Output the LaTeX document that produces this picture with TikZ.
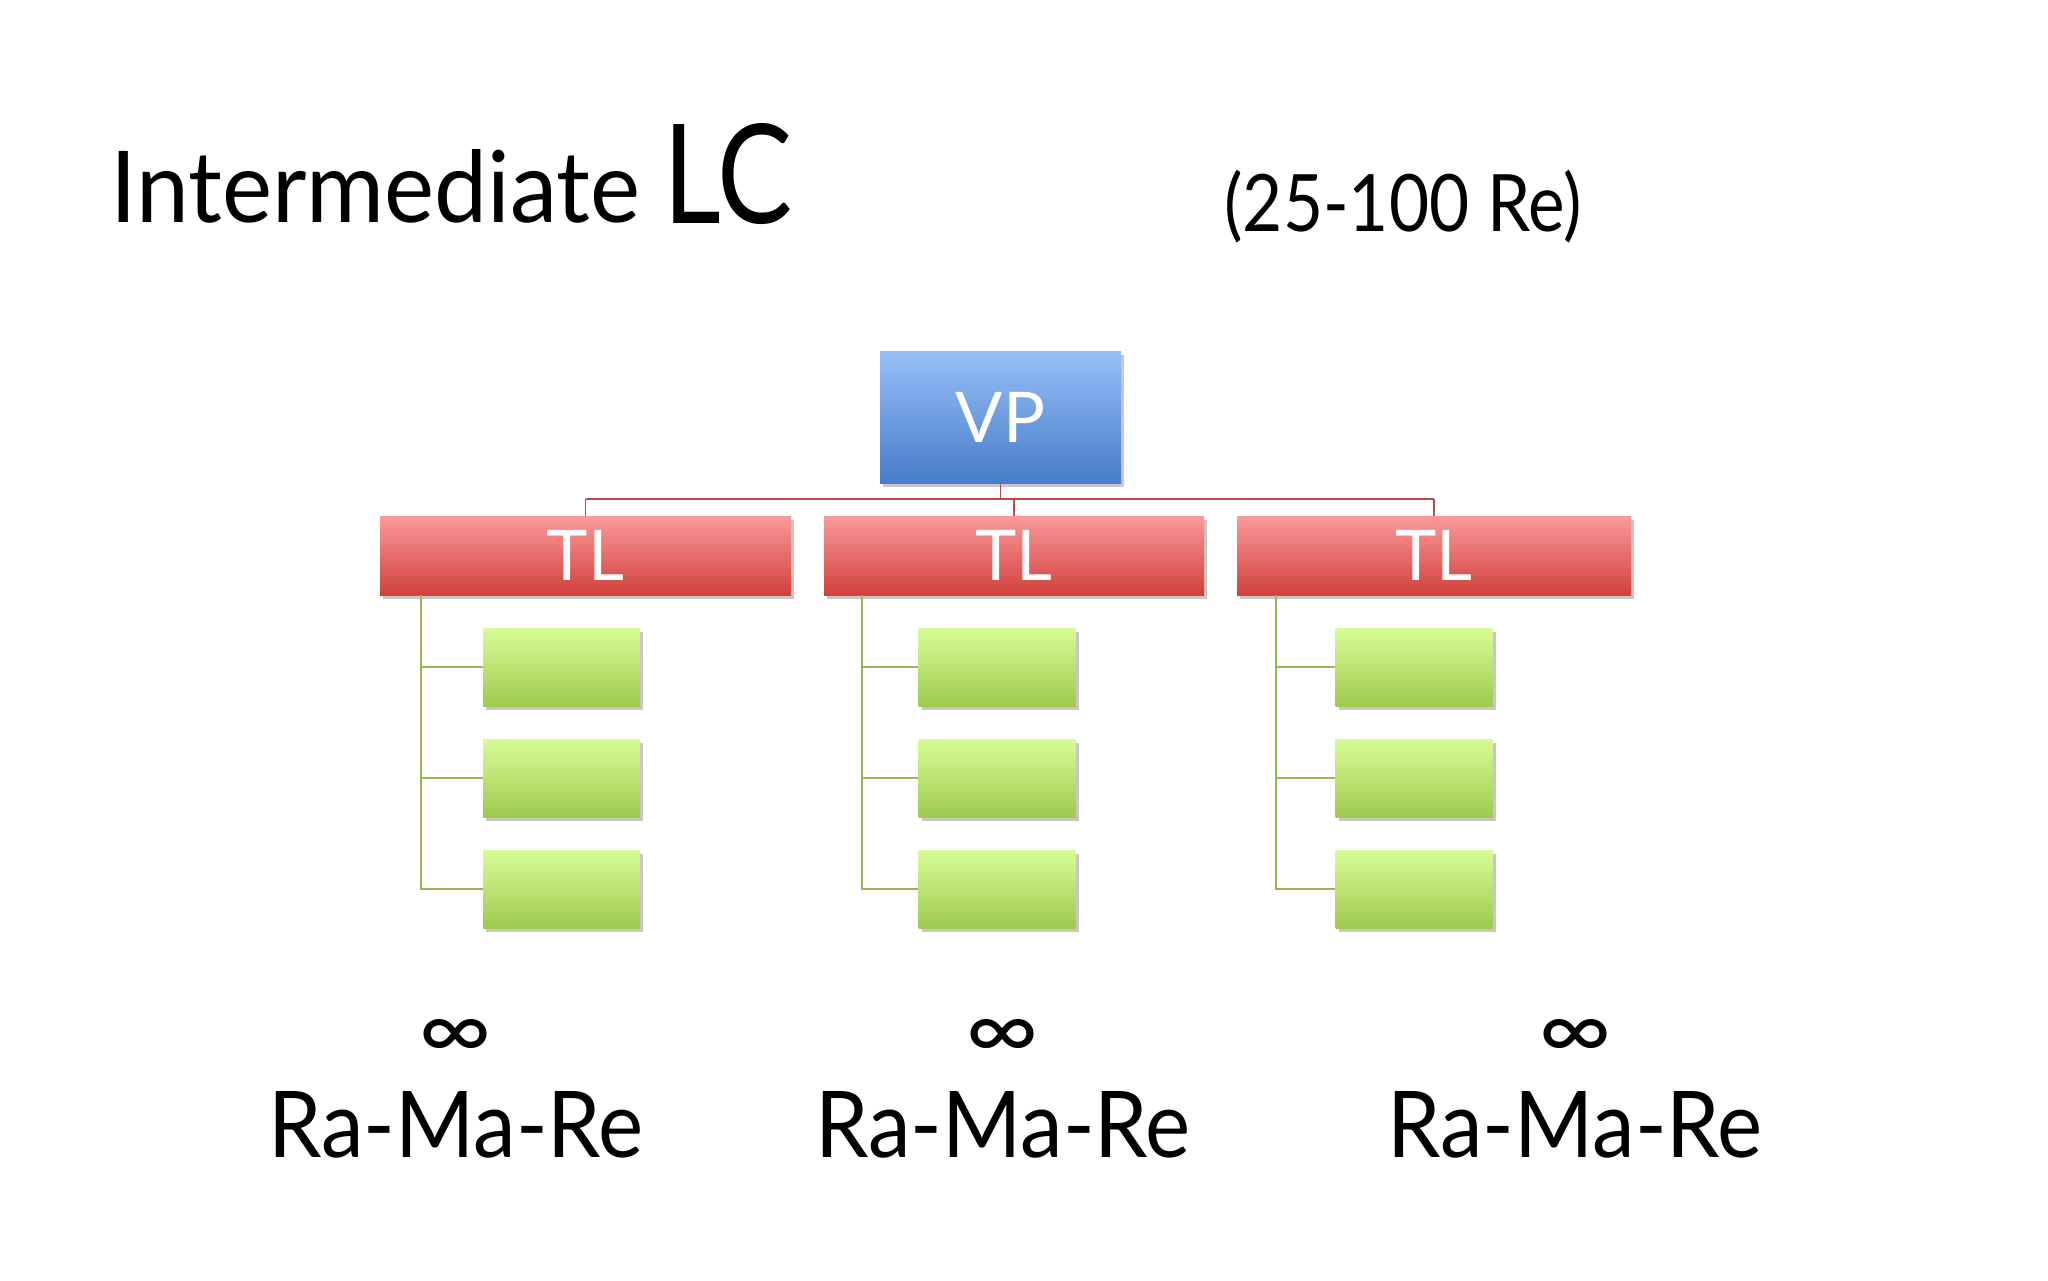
\documentclass[tikz,border=0pt]{standalone}
\usepackage{fontspec}
\setmainfont{Lato}
\usetikzlibrary{shadows}
\definecolor{bluetop}{RGB}{150,192,248}
\definecolor{bluebot}{RGB}{72,124,200}
\definecolor{redtop}{RGB}{250,154,154}
\definecolor{redbot}{RGB}{208,64,60}
\definecolor{greentop}{RGB}{216,252,150}
\definecolor{greenbot}{RGB}{158,202,78}
\definecolor{redline}{RGB}{190,72,70}
\definecolor{greenline}{RGB}{150,184,84}
\tikzset{
  boxbase/.style={rectangle, inner sep=0pt, text=white,
    drop shadow={shadow xshift=3pt, shadow yshift=-4pt, fill=black, opacity=0.22}},
  vpbox/.style={boxbase, top color=bluetop, bottom color=bluebot,
    minimum width=241pt, minimum height=132pt, font=\fontsize{70}{70}\selectfont},
  tlbox/.style={boxbase, top color=redtop, bottom color=redbot,
    minimum height=79pt, font=\fontsize{70}{70}\selectfont},
  grbox/.style={boxbase, top color=greentop, bottom color=greenbot,
    minimum width=157pt, minimum height=78pt},
  redconn/.style={draw=redline, line width=1.8pt},
  greenconn/.style={draw=greenline, line width=1.8pt},
  txt/.style={inner sep=0pt, text=black}
}
\begin{document}
\begin{tikzpicture}[x=1pt,y=-1pt]
\useasboundingbox[fill=white] (0,0) rectangle (2048,1280);
% title
\node[txt, anchor=south west] (title1) at (110,223) {\resizebox{530pt}{73pt}{Intermediate}};
\node[txt, anchor=south west] (title2) at (663,225) {\resizebox{129pt}{100pt}{LC}};
\node[txt] (range) at (1403,207) {\resizebox*{357pt}{73pt}{(25-100 Re)}};
% boxes
\node[vpbox] (vp) at (1000.5,417) {VP};
\node[tlbox, minimum width=411pt] (tl1) at (585.5,555.5) {TL};
\node[tlbox, minimum width=380pt] (tl2) at (1014,555.5) {TL};
\node[tlbox, minimum width=394pt] (tl3) at (1434,555.5) {TL};
\foreach \c/\x in {1/561.5,2/997,3/1414}{
  \node[grbox] (g\c1) at (\x,667) {};
  \node[grbox] (g\c2) at (\x,778) {};
  \node[grbox] (g\c3) at (\x,889) {};
}
% red connectors
\coordinate (bus) at (1000.5,499);
\draw[redconn] (vp.south) -- (bus);
\draw[redconn] (bus -| tl1.north) -- (bus -| tl3.north);
\draw[redconn] (bus -| tl1.north) -- (tl1.north);
\draw[redconn] (bus -| tl2.north) -- (tl2.north);
\draw[redconn] (bus -| tl3.north) -- (tl3.north);
% green connectors
\coordinate (s1) at ([xshift=41pt]tl1.south west);
\coordinate (s2) at ([xshift=38pt]tl2.south west);
\coordinate (s3) at ([xshift=39pt]tl3.south west);
\foreach \c in {1,2,3}{
  \draw[greenconn] (s\c) |- (g\c3.west);
  \draw[greenconn] (s\c |- g\c1.west) -- (g\c1.west);
  \draw[greenconn] (s\c |- g\c2.west) -- (g\c2.west);
}
% bottom labels
\foreach \n/\x in {1/456,2/1003,3/1575}{
  \node[txt] (inf\n) at (\x,1039) {\resizebox*{74pt}{40pt}{∞}};
  \node[txt, anchor=south] (rmr\n) at (\x,1158) {\resizebox{375pt}{66pt}{Ra-Ma-Re}};
}
\end{tikzpicture}
\end{document}
